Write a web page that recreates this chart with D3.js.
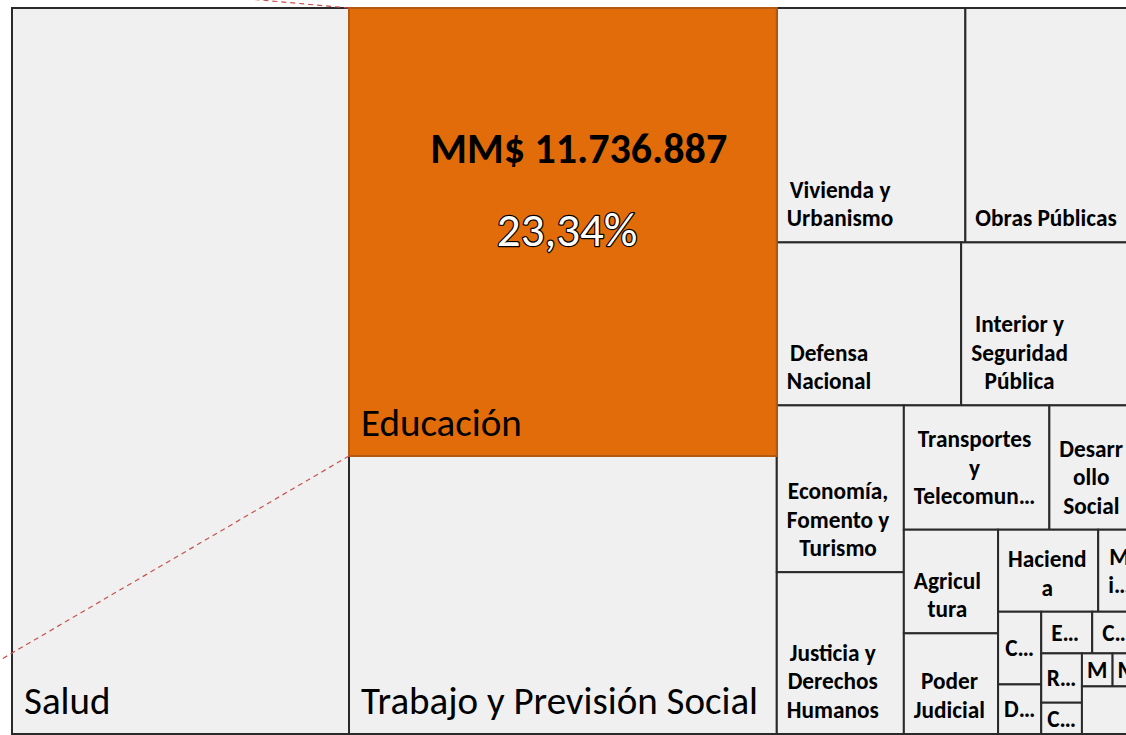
<!DOCTYPE html>
<html>
<head>
<meta charset="utf-8">
<script src="https://cdn.jsdelivr.net/npm/d3@7"></script>
<style>
  body { margin: 0; background: #fff; overflow: hidden; }
  svg { display: block; }
</style>
</head>
<body>
<div id="chart"></div>
<script>
const ministerios = [
    "Salud", "Educación", "Trabajo y Previsión Social", "Vivienda y Urbanismo",
    "Obras Públicas", "Defensa Nacional", "Interior y Seguridad Pública",
    "Economía, Fomento y Turismo", "Justicia y Derechos Humanos",
    "Transportes y Telecomunicaciones", "Desarrollo Social", "Agricultura",
    "Poder Judicial", "Hacienda", "Ministerio Público",
    "Culturas, las Artes y el Patrimonio", "Deporte", "Energía",
    "Congreso Nacional", "Relaciones Exteriores",
    "Contraloría General de la República", "Medio Ambiente", "Minería", ""
];
const montos = [
    14984000, 11736887, 7283000, 2707000,
    2550000, 1840000, 1815000,
    1298000, 1259000,
    1108000, 713000, 598000,
    581000, 503000, 225000,
    192000, 131000, 130000,
    129500, 123000,
    78000, 62000, 61500, 178000
];
const destacado = "Educación";
const etiquetasGrandes = ["Salud", "Educación", "Trabajo y Previsión Social"];

const width = 1126, height = 735;
const ox = 12, oy = 8;          // esquina del treemap
const treeW = 1131, treeH = 726; // se sale un poco por la derecha, como en la captura

const fontFamily = "Calibri, Carlito, Lato, sans-serif";
const estiloGrande = {size: 39, weight: 400, lineH: 47, padX: 12};
const estiloChico = {size: 23.3, weight: 700, lineH: 28.5, padX: 10};
const padY = 10;

const locale = d3.formatLocale({decimal: ",", thousands: ".", grouping: [3], currency: ["$", ""]});
const fmtMonto = locale.format(",");
const fmtPct = locale.format(".2f");

// squarify con razón objetivo < 1 (d3 la fuerza a >= 1, Excel no)
function squarifyExcel(ratio) {
    return function(parent, x0, y0, x1, y1) {
        const nodes = parent.children;
        let value = parent.value, i0 = 0;
        while (i0 < nodes.length) {
            const dx = x1 - x0, dy = y1 - y0;
            const alpha = Math.max(dy / dx, dx / dy) / (value * ratio);
            let i1 = i0;
            let sum = nodes[i1++].value, minV = sum, maxV = sum;
            let beta = sum * sum * alpha;
            let best = Math.max(maxV / beta, beta / minV);
            for (; i1 < nodes.length; ++i1) {
                const v = nodes[i1].value;
                const s = sum + v;
                const mn = Math.min(minV, v), mx = Math.max(maxV, v);
                beta = s * s * alpha;
                const r = Math.max(mx / beta, beta / mn);
                if (r > best) break;
                sum = s; minV = mn; maxV = mx; best = r;
            }
            const row = {value: sum, children: nodes.slice(i0, i1)};
            if (dx < dy) {
                const yy = i1 >= nodes.length ? y1 : y0 + dy * sum / value;
                d3.treemapDice(row, x0, y0, x1, yy);
                y0 = yy;
            } else {
                const xx = i1 >= nodes.length ? x1 : x0 + dx * sum / value;
                d3.treemapSlice(row, x0, y0, xx, y1);
                x0 = xx;
            }
            value -= sum;
            i0 = i1;
        }
    };
}

const root = d3.hierarchy({children: ministerios.map((m, i) => ({name: m, value: montos[i]}))})
    .sum(d => d.value || 0);

d3.treemap()
    .tile(squarifyExcel(0.9))
    .size([treeW, treeH])(root);

const total = root.value;

const svg = d3.select("#chart").append("svg")
    .attr("width", width)
    .attr("height", height)
    .style("font-family", fontFamily);

const g = svg.append("g").attr("transform", `translate(${ox},${oy})`);

const measurer = svg.append("text").attr("visibility", "hidden");
function medidor(est) {
    return s => {
        measurer.attr("font-size", est.size).attr("font-weight", est.weight).text(s);
        return measurer.node().getComputedTextLength();
    };
}

// corta en palabras y, si una palabra no cabe, en letras (como Excel)
function wrap(name, maxW, measure) {
    const lines = [];
    let cur = "";
    for (const w of name.split(/\s+/)) {
        const test = cur ? cur + " " + w : w;
        if (measure(test) <= maxW) { cur = test; continue; }
        if (cur) lines.push(cur);
        let rest = w;
        while (rest.length > 1 && measure(rest) > maxW) {
            let k = rest.length - 1;
            while (k > 1 && measure(rest.slice(0, k)) > maxW) k--;
            lines.push(rest.slice(0, k));
            rest = rest.slice(k);
        }
        cur = rest;
    }
    if (cur) lines.push(cur);
    return lines;
}

const leaves = root.leaves().sort((a, b) => (a.data.name === destacado) - (b.data.name === destacado));

const cell = g.selectAll("g.cell")
    .data(leaves)
    .join("g")
    .attr("class", "cell");

cell.append("clipPath")
    .attr("id", (d, i) => "clip" + i)
  .append("rect")
    .attr("x", d => d.x0)
    .attr("y", d => d.y0)
    .attr("width", d => d.x1 - d.x0)
    .attr("height", d => d.y1 - d.y0);

cell.append("rect")
    .attr("x", d => d.x0)
    .attr("y", d => d.y0)
    .attr("width", d => d.x1 - d.x0)
    .attr("height", d => d.y1 - d.y0)
    .attr("fill", d => d.data.name === destacado ? "#e36c0a" : "#f0f0f0")
    .attr("stroke", d => d.data.name === destacado ? "#b45a10" : "#2a2a2a")
    .attr("stroke-width", 2);

cell.each(function(d, i) {
    if (!d.data.name) return;
    const est = etiquetasGrandes.includes(d.data.name) ? estiloGrande : estiloChico;
    const measure = medidor(est);
    const w = d.x1 - d.x0, h = d.y1 - d.y0;
    const maxW = w - 2 * est.padX;
    const full = wrap(d.data.name, maxW, measure);
    const maxLines = Math.max(1, Math.floor((h - 2 * padY) / est.lineH));
    let lines = full.slice(0, maxLines);
    if (full.length > maxLines) {
        let last = lines[lines.length - 1];
        while (last.length > 1 && measure(last + "…") > maxW) last = last.slice(0, -1);
        lines[lines.length - 1] = measure(last + "…") > w - 4 ? last : last + "…";
    }
    const fits = full.length * est.lineH + 2 * padY <= h;
    const blockH = lines.length * est.lineH;
    const top = fits ? d.y1 - padY - blockH : (d.y0 + d.y1) / 2 - blockH / 2;
    const bw = d3.max(lines, measure);
    const cx = bw > maxW ? (d.x0 + d.x1) / 2 : d.x0 + est.padX + bw / 2;

    d3.select(this).append("text")
        .attr("clip-path", `url(#clip${i})`)
        .attr("font-size", est.size)
        .attr("font-weight", est.weight)
        .attr("fill", "#000")
        .attr("text-anchor", "middle")
        .selectAll("tspan")
        .data(lines)
        .join("tspan")
        .attr("x", cx)
        .attr("y", (l, j) => top + (j + 0.5) * est.lineH)
        .attr("dy", "0.35em")
        .text(l => l);
});

// rótulos de monto y porcentaje sobre la celda destacada
const nodoDest = leaves.find(d => d.data.name === destacado);
const dw = nodoDest.x1 - nodoDest.x0;

g.append("text")
    .attr("x", nodoDest.x0 + dw * 0.537)
    .attr("y", nodoDest.y0 + 155)
    .attr("text-anchor", "middle")
    .attr("font-size", 42)
    .attr("font-weight", 700)
    .attr("fill", "#000")
    .text("MM$ " + fmtMonto(nodoDest.value));

g.append("text")
    .attr("x", nodoDest.x0 + dw * 0.51)
    .attr("y", nodoDest.y0 + 238)
    .attr("text-anchor", "middle")
    .attr("font-size", 47)
    .attr("fill", "#fff")
    .attr("stroke", "#000")
    .attr("stroke-width", 2.5)
    .attr("paint-order", "stroke")
    .attr("stroke-linejoin", "round")
    .text(fmtPct(nodoDest.value / total * 100) + "%");

// líneas de la llamada (zoom) hacia fuera del cuadro
const llamadas = [
    [[nodoDest.x0, nodoDest.y0], [250 - ox, -1 - oy]],
    [[nodoDest.x0, nodoDest.y1], [-5 - ox, 663 - oy]]
];
g.append("g")
    .attr("stroke", "#c8504d")
    .attr("stroke-width", 1.2)
    .attr("stroke-dasharray", "5,4")
    .selectAll("line")
    .data(llamadas)
    .join("line")
    .attr("x1", d => d[0][0])
    .attr("y1", d => d[0][1])
    .attr("x2", d => d[1][0])
    .attr("y2", d => d[1][1]);
</script>
</body>
</html>
